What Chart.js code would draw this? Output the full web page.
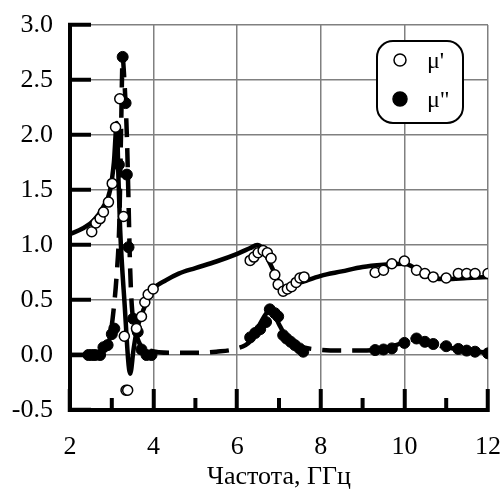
<!DOCTYPE html>
<html>
<head>
<meta charset="utf-8">
<script src="https://cdn.jsdelivr.net/npm/chart.js@4/dist/chart.umd.min.js"></script>
<style>
    html, body { margin: 0; padding: 0; background: #fff; }
</style>
</head>
<body>
<canvas id="muChart" width="501" height="490"></canvas>
<script>
// measured points, mu'
var freqRe = [2.52, 2.62, 2.72, 2.80, 2.92, 3.01, 3.09, 3.19, 3.28, 3.30, 3.34, 3.38, 3.59, 3.71, 3.79, 3.87, 3.99,
    6.31, 6.40, 6.50, 6.62, 6.72, 6.81, 6.90, 6.98, 7.10, 7.20, 7.30, 7.41, 7.50, 7.60,
    9.30, 9.50, 9.70, 10.0, 10.29, 10.49, 10.69, 11.0, 11.29, 11.49, 11.69, 12.0];
var muRe = [1.12, 1.20, 1.24, 1.30, 1.39, 1.56, 2.07, 2.33, 1.26, 0.17, -0.32, -0.32, 0.24, 0.35, 0.48, 0.55, 0.60,
    0.86, 0.89, 0.93, 0.95, 0.93, 0.88, 0.73, 0.64, 0.58, 0.60, 0.62, 0.66, 0.70, 0.71,
    0.75, 0.77, 0.83, 0.855, 0.77, 0.74, 0.71, 0.70, 0.74, 0.74, 0.74, 0.74];

// measured points, mu''
var freqIm = [2.44, 2.52, 2.60, 2.72, 2.80, 2.90, 3.00, 3.06, 3.17, 3.26, 3.33, 3.36, 3.40, 3.51, 3.62, 3.71, 3.83, 3.95,
    6.31, 6.43, 6.55, 6.69, 6.78, 6.90, 6.98, 7.10, 7.18, 7.28, 7.38, 7.49, 7.58,
    9.30, 9.50, 9.70, 10.0, 10.29, 10.49, 10.69, 11.0, 11.29, 11.49, 11.69, 12.0];
var muIm = [0.0, 0.0, 0.0, 0.0, 0.07, 0.09, 0.19, 0.24, 1.73, 2.71, 2.29, 1.64, 0.98, 0.33, 0.21, 0.05, 0.0, 0.0,
    0.16, 0.20, 0.235, 0.30, 0.415, 0.38, 0.35, 0.18, 0.15, 0.12, 0.09, 0.06, 0.03,
    0.045, 0.05, 0.06, 0.11, 0.15, 0.12, 0.10, 0.08, 0.055, 0.04, 0.03, 0.015];

// calculated curves
var fitFreqRe = [2.0, 2.3, 2.56, 2.8, 2.96, 3.05, 3.12, 3.16, 3.2, 3.3, 3.44, 3.52, 3.6, 3.8, 4.0, 4.3, 4.6, 5.0, 5.5,
    6.0, 6.3, 6.48, 6.6, 6.8, 7.0, 7.1, 7.3, 7.6, 8.0, 8.5, 9.0, 9.5, 10.0, 10.3, 10.7, 11.0, 11.5, 12.0];
var fitMuRe = [1.10, 1.15, 1.22, 1.35, 1.50, 1.75, 2.11, 1.60, 1.14, 0.50, -0.17, 0.05, 0.23, 0.45, 0.60, 0.68, 0.74, 0.79, 0.85,
    0.92, 0.97, 1.0, 0.97, 0.82, 0.66, 0.59, 0.63, 0.67, 0.72, 0.76, 0.80, 0.82, 0.83, 0.78, 0.70, 0.69, 0.70, 0.71];
var fitFreqIm = [2.0, 2.5, 2.8, 2.95, 3.04, 3.12, 3.18, 3.22, 3.26, 3.30, 3.36, 3.40, 3.43, 3.47, 3.55, 3.7, 3.9, 4.4, 5.0,
    5.5, 6.0, 6.3, 6.5, 6.7, 6.8, 6.9, 7.0, 7.2, 7.5, 7.9, 8.5, 9.0, 9.5, 9.8, 10.0, 10.2, 10.4, 10.7, 11.0, 11.5, 12.0];
var fitMuIm = [0.0, 0.0, 0.04, 0.15, 0.40, 0.75, 1.2, 2.0, 2.7, 2.5, 2.0, 1.4, 0.9, 0.5, 0.25, 0.08, 0.04, 0.02, 0.02,
    0.03, 0.06, 0.12, 0.25, 0.38, 0.40, 0.36, 0.28, 0.15, 0.08, 0.05, 0.04, 0.04, 0.06, 0.09, 0.12, 0.14, 0.13, 0.10, 0.07, 0.04, 0.02];

var xTicks = [2, 4, 6, 8, 10, 12];
var xMinorTicks = [3, 5, 7, 9, 11];
var yTicks = [-0.5, 0.0, 0.5, 1.0, 1.5, 2.0, 2.5, 3.0];

var serif = '"Liberation Serif", "DejaVu Serif", serif';

function pairs(xs, ys) {
    return xs.map(function(x, i) { return {x: x, y: ys[i]}; });
}

// short minor ticks on the frequency axis
var minorTicks = {
    id: 'minorTicks',
    afterDatasetsDraw: function(chart) {
        var c = chart.ctx, xs = chart.scales.x, bottom = chart.chartArea.bottom;
        c.save();
        c.fillStyle = '#000';
        xMinorTicks.forEach(function(v) {
            var px = xs.getPixelForValue(v);
            c.fillRect(px - 2, bottom - 12, 4, 12);
        });
        c.restore();
    }
};

// rounded legend box in the upper right corner
var boxLegend = {
    id: 'boxLegend',
    afterDraw: function(chart) {
        var c = chart.ctx;
        var x0 = 377, y0 = 41, w = 86, h = 82, r = 16;
        c.save();
        c.beginPath();
        c.moveTo(x0 + r, y0);
        c.arcTo(x0 + w, y0, x0 + w, y0 + h, r);
        c.arcTo(x0 + w, y0 + h, x0, y0 + h, r);
        c.arcTo(x0, y0 + h, x0, y0, r);
        c.arcTo(x0, y0, x0 + w, y0, r);
        c.closePath();
        c.fillStyle = '#fff';
        c.fill();
        c.strokeStyle = '#000';
        c.lineWidth = 2;
        c.stroke();
        [chart.data.datasets[0], chart.data.datasets[1]].forEach(function(ds, i) {
            var cy = y0 + 19 + i * 39;
            c.beginPath();
            c.arc(x0 + 23, cy, i === 0 ? 6 : 7, 0, Math.PI * 2);
            c.fillStyle = ds.backgroundColor;
            c.fill();
            c.lineWidth = 1.5;
            c.strokeStyle = '#000';
            c.stroke();
            c.fillStyle = '#000';
            c.font = '24px ' + serif;
            c.textBaseline = 'middle';
            c.fillText(ds.label, x0 + 50, cy + 2);
        });
        c.restore();
    }
};

var el = document.getElementById('muChart');
new Chart(el, {
    type: 'scatter',
    data: {
        datasets: [{
            label: "\u03bc'",
            data: pairs(freqRe, muRe),
            pointRadius: 5,
            pointBorderWidth: 1.5,
            borderColor: '#000',
            backgroundColor: '#fff',
            order: 1
        }, {
            label: '\u03bc"',
            data: pairs(freqIm, muIm),
            pointRadius: 5.5,
            pointBorderWidth: 1,
            borderColor: '#000',
            backgroundColor: '#000',
            order: 1
        }, {
            label: 'fit re',
            type: 'line',
            data: pairs(fitFreqRe, fitMuRe),
            borderColor: '#000',
            borderWidth: 4.5,
            pointRadius: 0,
            cubicInterpolationMode: 'monotone',
            order: 2
        }, {
            label: 'fit im',
            type: 'line',
            data: pairs(fitFreqIm, fitMuIm),
            borderColor: '#000',
            borderWidth: 4.5,
            borderDash: [19, 11],
            pointRadius: 0,
            cubicInterpolationMode: 'monotone',
            order: 2
        }]
    },
    options: {
        responsive: false,
        animation: false,
        layout: { padding: { top: 25, right: 13, left: 0, bottom: 0 } },
        plugins: {
            legend: { display: false },
            tooltip: { enabled: false }
        },
        scales: {
            x: {
                type: 'linear',
                min: 2,
                max: 12,
                afterBuildTicks: function(s) {
                    s.ticks = xTicks.map(function(v) { return {value: v}; });
                },
                afterFit: function(s) {
                    s.height = 80;
                    s.paddingLeft = 0;
                    s.paddingRight = 0;
                },
                grid: {
                    color: '#808080',
                    lineWidth: 1.5,
                    drawTicks: true,
                    tickLength: -21,
                    tickWidth: 4,
                    tickColor: '#000'
                },
                border: { color: '#000', width: 4 },
                ticks: {
                    color: '#000',
                    padding: 43,
                    maxRotation: 0,
                    font: { family: serif, size: 26 }
                },
                title: {
                    display: true,
                    text: 'Частота, ГГц',
                    color: '#000',
                    padding: 0,
                    font: { family: serif, size: 26, lineHeight: 1 }
                }
            },
            y: {
                min: -0.5,
                max: 3,
                afterBuildTicks: function(s) {
                    s.ticks = yTicks.map(function(v) { return {value: v}; });
                },
                afterFit: function(s) {
                    s.width = 70;
                    s.paddingTop = 0;
                    s.paddingBottom = 0;
                },
                grid: {
                    color: '#808080',
                    lineWidth: 1.5,
                    drawTicks: true,
                    tickLength: -21,
                    tickWidth: 4,
                    tickColor: '#000'
                },
                border: { color: '#000', width: 4 },
                ticks: {
                    color: '#000',
                    padding: 38,
                    font: { family: serif, size: 26 },
                    callback: function(v) { return v.toFixed(1); }
                }
            }
        }
    },
    plugins: [minorTicks, boxLegend]
});
</script>
</body>
</html>
